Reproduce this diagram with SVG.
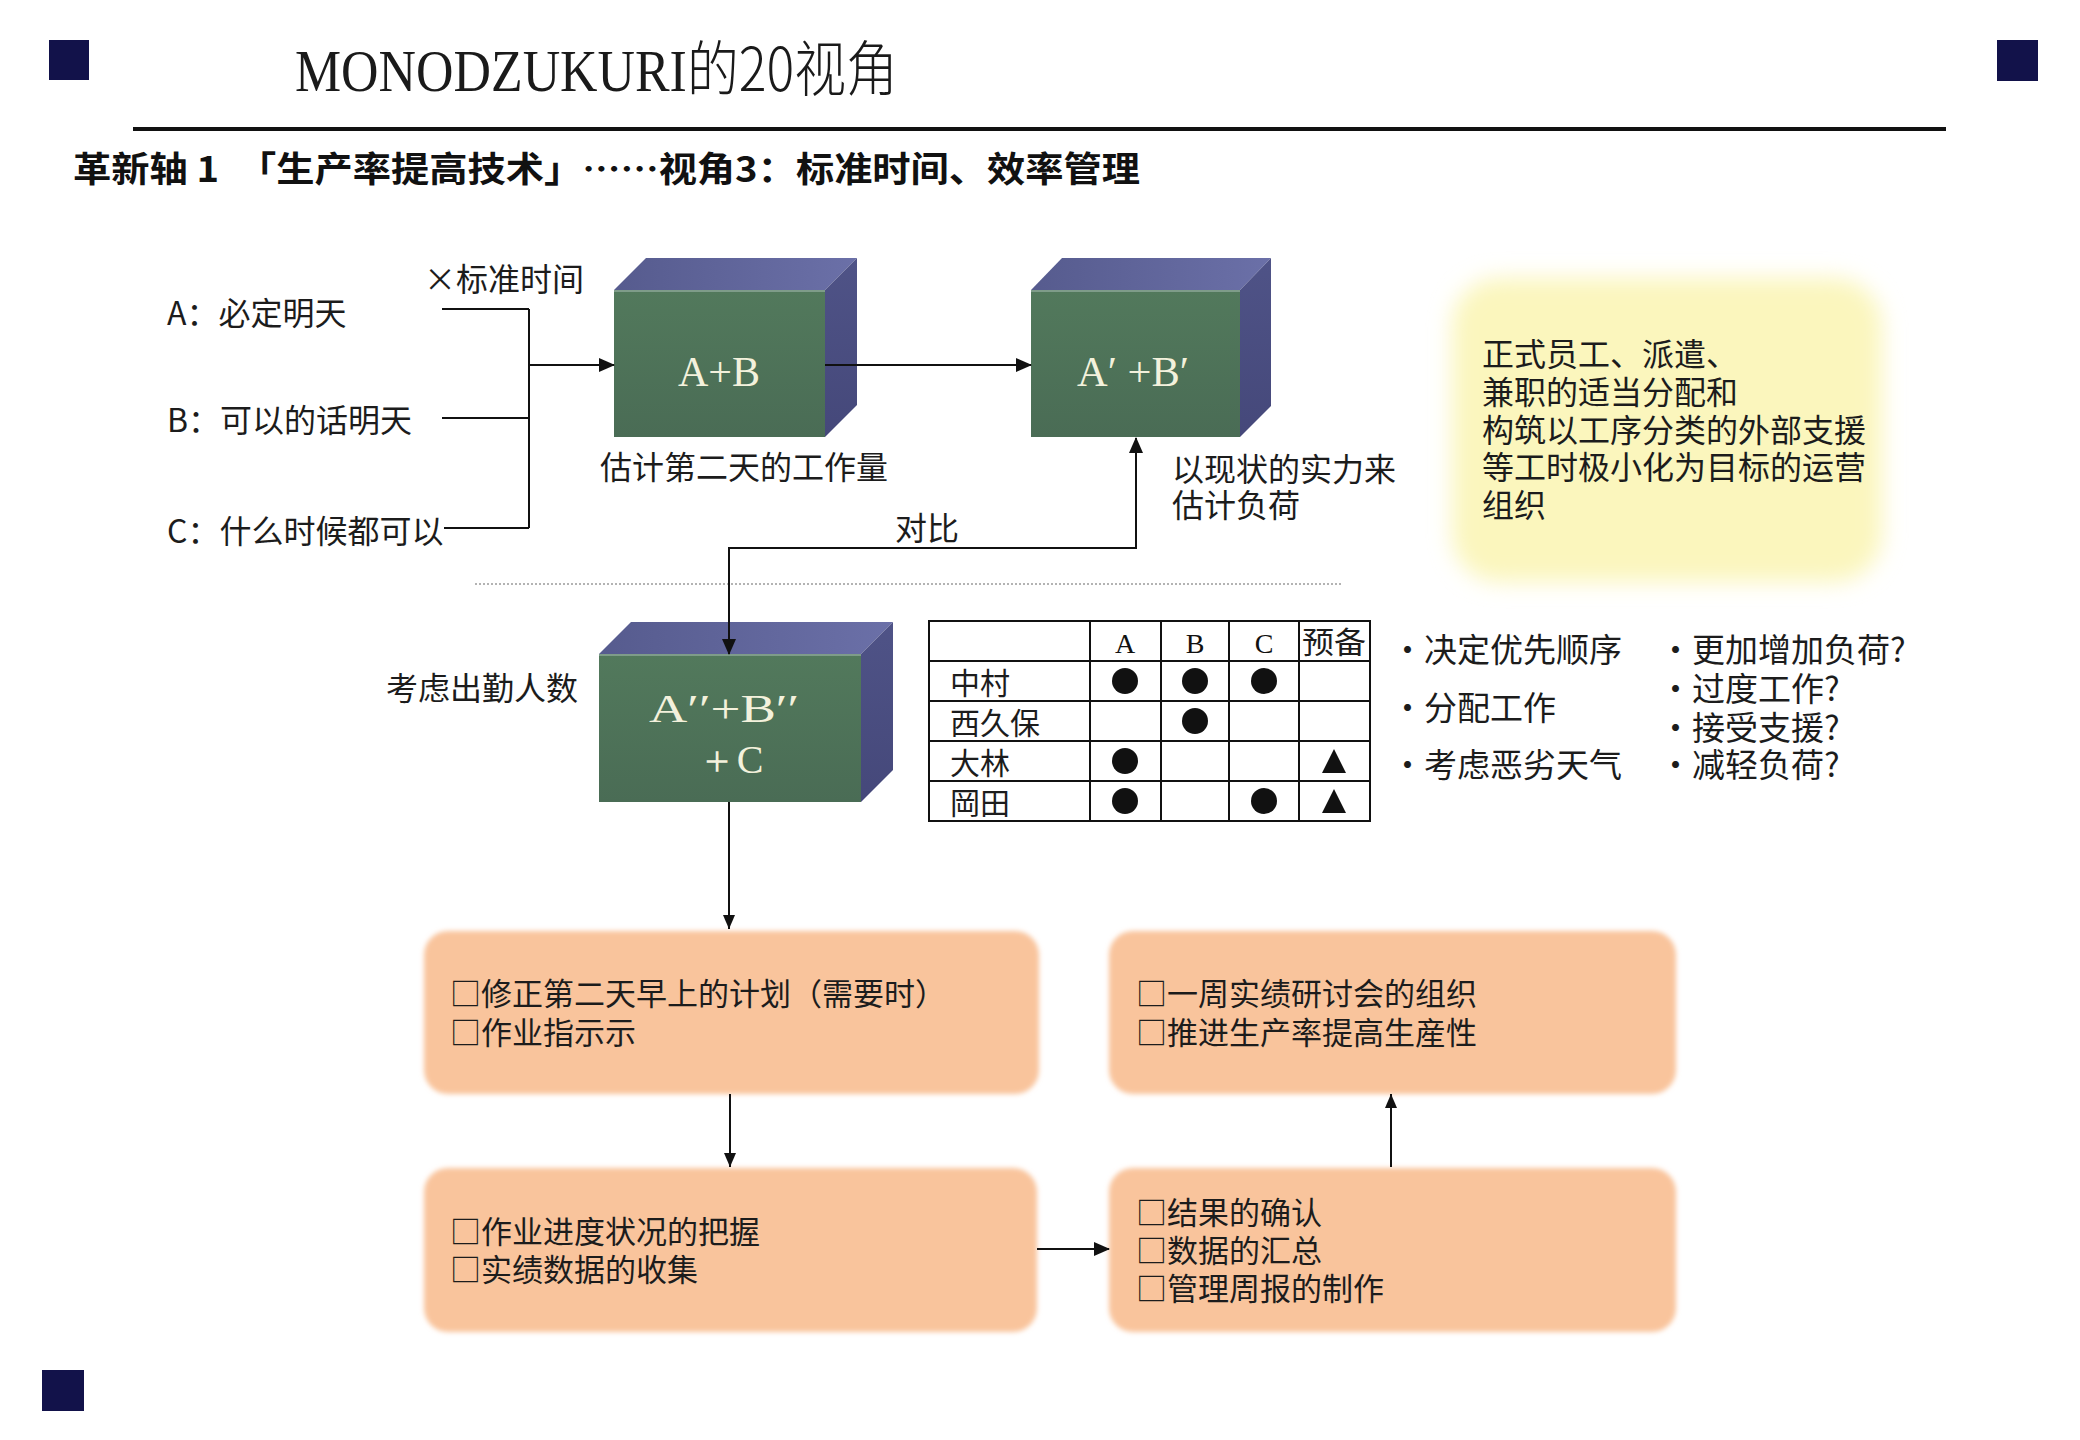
<svg xmlns="http://www.w3.org/2000/svg" width="2080" height="1440" viewBox="0 0 2080 1440">
<defs>
<style>
.t{font-family:"Noto Sans CJK SC","Noto Sans",sans-serif;font-size:32px;fill:#1c1c1c}
.tb{font-size:31px}
.cube{font-family:"Liberation Serif",serif;fill:#f3f1dc;font-size:42px}
.front{fill:url(#gFront)}
.top{fill:url(#gTop)}
.side{fill:url(#gSide)}
.hl{stroke:#8ea898;stroke-width:1.5}
.ln{fill:none;stroke:#111;stroke-width:2}
.orange{fill:#f9c49c;filter:url(#soft)}
.sq{fill:#12124a}
.grid{fill:none;stroke:#111;stroke-width:2}
</style>
<linearGradient id="gFront" x1="0" y1="0" x2="0" y2="1"><stop offset="0" stop-color="#52795c"/><stop offset="1" stop-color="#4a6c55"/></linearGradient>
<linearGradient id="gTop" x1="0" y1="0" x2="1" y2="0"><stop offset="0" stop-color="#565b8e"/><stop offset="1" stop-color="#6b70a8"/></linearGradient>
<linearGradient id="gSide" x1="0" y1="0" x2="0" y2="1"><stop offset="0" stop-color="#4f5387"/><stop offset="1" stop-color="#45487a"/></linearGradient>
<filter id="soft" x="-5%" y="-10%" width="110%" height="120%"><feGaussianBlur stdDeviation="2.5"/></filter>
<filter id="glow" x="-20%" y="-20%" width="140%" height="140%"><feGaussianBlur stdDeviation="11"/></filter>
<marker id="ah" markerUnits="userSpaceOnUse" markerWidth="16" markerHeight="14" refX="15" refY="7" orient="auto-start-reverse"><path d="M0,0 L16,7 L0,14 z" fill="#111"/></marker>
<marker id="ahs" markerUnits="userSpaceOnUse" markerWidth="14" markerHeight="12" refX="14" refY="6" orient="auto-start-reverse"><path d="M0,0 L14,6 L0,12 z" fill="#111"/></marker>
</defs>
<rect width="2080" height="1440" fill="#ffffff"/>

<g id="header">
<rect class="sq" x="49" y="40" width="40" height="40"/>
<rect class="sq" x="1997" y="40" width="41" height="41"/>
<rect class="sq" x="42" y="1370" width="42" height="41"/>
<text x="295" y="91" textLength="603" lengthAdjust="spacingAndGlyphs" style="font-family:'Liberation Serif','Noto Sans CJK SC',serif;font-size:60px;fill:#1a1a1a"><tspan>MONODZUKURI</tspan><tspan style="font-family:'Noto Sans CJK SC',sans-serif;font-weight:300">的20视角</tspan></text>
<line x1="133" y1="129" x2="1946" y2="129" stroke="#111" stroke-width="4"/>
<text x="73" y="182" textLength="1067" lengthAdjust="spacingAndGlyphs" style="font-family:'Noto Sans CJK SC',sans-serif;font-size:35px;font-weight:700;fill:#111">革新轴 1　「生产率提高技术」……视角3：标准时间、效率管理</text>
</g>

<g id="inputs">
<text class="t" x="167" y="325">A：必定明天</text>
<text class="t" x="167" y="432">B：可以的话明天</text>
<text class="t" x="167" y="543">C：什么时候都可以</text>
<text class="t" x="424" y="291">×标准时间</text>
</g>

<g id="cube-ab">
<rect class="front" x="614" y="290" width="211" height="147"/>
<polygon class="top" points="614,290 646,258 857,258 825,290"/>
<polygon class="side" points="825,290 857,258 857,405 825,437"/>
<line class="hl" x1="614" y1="291" x2="825" y2="291"/>
<text class="cube" x="719" y="386" text-anchor="middle">A+B</text>
<text class="t" x="600" y="479">估计第二天的工作量</text>
</g>

<g id="cube-ab2">
<rect class="front" x="1031" y="290" width="209" height="147"/>
<polygon class="top" points="1031,290 1062,258 1271,258 1240,290"/>
<polygon class="side" points="1240,290 1271,258 1271,406 1240,437"/>
<line class="hl" x1="1031" y1="291" x2="1240" y2="291"/>
<text class="cube" x="1077" y="386" textLength="112" lengthAdjust="spacingAndGlyphs">A′ +B′</text>
<text class="t" x="1172" y="481"><tspan x="1172" y="481">以现状的实力来</tspan><tspan x="1172" y="517">估计负荷</tspan></text>
</g>

<g id="cube-abc">
<rect class="front" x="599" y="654" width="262" height="148"/>
<polygon class="top" points="599,654 631,622 893,622 861,654"/>
<polygon class="side" points="861,654 893,622 893,770 861,802"/>
<line class="hl" x1="599" y1="655" x2="861" y2="655"/>
<text class="cube" x="649" y="722" style="font-size:40px"><tspan x="649" y="722" textLength="150" lengthAdjust="spacingAndGlyphs">A′′+B′′</tspan><tspan x="730" y="773" text-anchor="middle">＋C</tspan></text>
<text class="t" x="386" y="700">考虑出勤人数</text>
</g>

<g id="separator">
<line x1="475" y1="584" x2="1342" y2="584" stroke="#9a9a9a" stroke-width="1.5" stroke-dasharray="2 2"/>
</g>

<g id="note">
<rect x="1452" y="278" width="430" height="304" rx="48" fill="#fbf6bd" filter="url(#glow)"/>
<text class="t"><tspan x="1482" y="366">正式员工、派遣、</tspan><tspan x="1482" y="404">兼职的适当分配和</tspan><tspan x="1482" y="442">构筑以工序分类的外部支援</tspan><tspan x="1482" y="479">等工时极小化为目标的运营</tspan><tspan x="1482" y="517">组织</tspan></text>
</g>

<g id="table">
<rect class="grid" x="929" y="621" width="441" height="200"/>
<path class="grid" d="M929,661 H1370 M929,701 H1370 M929,741 H1370 M929,781 H1370 M1090,621 V821 M1161,621 V821 M1229,621 V821 M1299,621 V821"/>
<text style="font-family:'Liberation Serif','Noto Sans CJK SC',serif;font-size:28px;fill:#111" text-anchor="middle"><tspan x="1125" y="653">A</tspan><tspan x="1195" y="653">B</tspan><tspan x="1264" y="653">C</tspan></text>
<text class="t" x="1334" y="653" text-anchor="middle" textLength="64" lengthAdjust="spacingAndGlyphs" style="font-size:30px">预备</text>
<text class="t" style="font-size:30px"><tspan x="950" y="694">中村</tspan><tspan x="950" y="734">西久保</tspan><tspan x="950" y="774">大林</tspan><tspan x="950" y="814">岡田</tspan></text>
<g fill="#111">
<circle cx="1125" cy="681" r="13"/><circle cx="1195" cy="681" r="13"/><circle cx="1264" cy="681" r="13"/>
<circle cx="1195" cy="721" r="13"/>
<circle cx="1125" cy="761" r="13"/>
<circle cx="1125" cy="801" r="13"/><circle cx="1264" cy="801" r="13"/>
<polygon points="1334,749 1346,773 1322,773"/>
<polygon points="1334,789 1346,813 1322,813"/>
</g>
</g>

<g id="bullets">
<text class="t" x="1391" y="662" style="font-size:33px">・决定优先顺序</text>
<text class="t" x="1391" y="720" style="font-size:33px">・分配工作</text>
<text class="t" x="1391" y="777" style="font-size:33px">・考虑恶劣天气</text>
<text class="t" style="font-size:33px"><tspan x="1659" y="662">・更加增加负荷?</tspan><tspan x="1659" y="701">・过度工作?</tspan><tspan x="1659" y="740">・接受支援?</tspan><tspan x="1659" y="777">・减轻负荷?</tspan></text>
</g>

<g id="box1">
<rect class="orange" x="424" y="931" width="615" height="163" rx="24"/>
<text class="t tb"><tspan x="450" y="1005">□修正第二天早上的计划（需要时）</tspan><tspan x="450" y="1044">□作业指示示</tspan></text>
</g>
<g id="box2">
<rect class="orange" x="1109" y="931" width="567" height="163" rx="24"/>
<text class="t tb"><tspan x="1136" y="1005">□一周实绩研讨会的组织</tspan><tspan x="1136" y="1044">□推进生产率提高生産性</tspan></text>
</g>
<g id="box3">
<rect class="orange" x="424" y="1168" width="613" height="164" rx="24"/>
<text class="t tb"><tspan x="450" y="1243">□作业进度状况的把握</tspan><tspan x="450" y="1281">□实绩数据的收集</tspan></text>
</g>
<g id="box4">
<rect class="orange" x="1109" y="1168" width="567" height="164" rx="24"/>
<text class="t tb"><tspan x="1136" y="1224">□结果的确认</tspan><tspan x="1136" y="1262">□数据的汇总</tspan><tspan x="1136" y="1300">□管理周报的制作</tspan></text>
</g>

<g id="connectors">
<path class="ln" d="M442,309 H529 M442,418 H529 M444,528 H529 M529,309 V528"/>
<path class="ln" d="M529,365 H614" marker-end="url(#ah)"/>
<path class="ln" d="M825,365 H1031" marker-end="url(#ah)"/>
<path class="ln" d="M1136,438 V548 H729 V654" marker-start="url(#ah)" marker-end="url(#ah)"/>
<text class="t" x="895" y="540">对比</text>
<path class="ln" d="M729,802 V929" marker-end="url(#ahs)"/>
<path class="ln" d="M730,1094 V1167" marker-end="url(#ahs)"/>
<path class="ln" d="M1037,1249 H1109" marker-end="url(#ah)"/>
<path class="ln" d="M1391,1167 V1094" marker-end="url(#ahs)"/>
</g>
</svg>
